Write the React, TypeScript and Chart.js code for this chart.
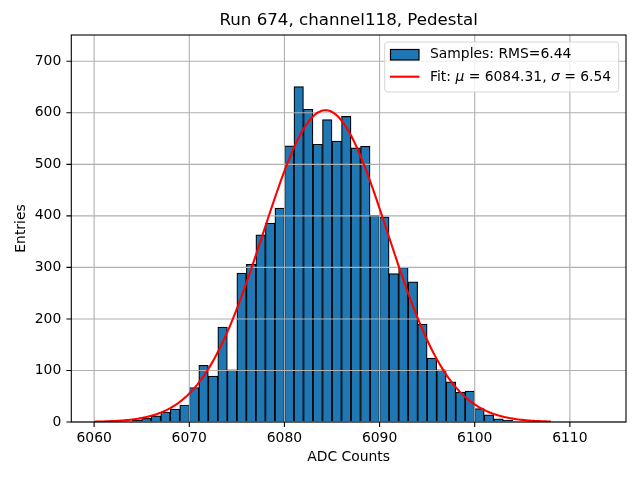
import React, { useEffect, useRef } from "react";
import { Chart, registerables } from "chart.js";

Chart.register(...registerables);

// ---- data ----
const binLefts = [
  6060, 6061, 6062, 6063, 6064, 6065, 6066, 6067, 6068, 6069,
  6070, 6071, 6072, 6073, 6074, 6075, 6076, 6077, 6078, 6079,
  6080, 6081, 6082, 6083, 6084, 6085, 6086, 6087, 6088, 6089,
  6090, 6091, 6092, 6093, 6094, 6095, 6096, 6097, 6098, 6099,
  6100, 6101, 6102, 6103, 6104, 6105, 6106, 6107, 6108, 6109,
  6110, 6111, 6112,
];
const binWidth = 1;
const counts = [
  0, 0, 0, 1, 3, 7, 12, 19, 25, 33,
  67, 110, 89, 184, 101, 289, 306, 363, 386, 415,
  536, 651, 607, 539, 587, 545, 593, 532, 535, 401,
  398, 288, 300, 272, 190, 124, 101, 78, 58, 60,
  26, 14, 6, 3, 1, 0, 0, 0, 0, 0,
  0, 0, 0,
];
const xTicks = [6060, 6070, 6080, 6090, 6100, 6110];
const yTicks = [0, 100, 200, 300, 400, 500, 600, 700];

// Gaussian fit parameters (from the legend)
const fitMu = 6084.31;
const fitSigma = 6.54;
const fitAmplitude = 605;
const fitRange = [6060, 6108];

const titleText = "Run 674, channel118, Pedestal";
const xLabel = "ADC Counts";
const yLabel = "Entries";
const sampleLabel = "Samples: RMS=6.44";

const FONT = "'DejaVu Sans', sans-serif";
const TICK_PX = 13.9;

function fitPoints() {
  const pts: { x: number; y: number }[] = [];
  const n = 240;
  for (let i = 0; i <= n; i++) {
    const x = fitRange[0] + ((fitRange[1] - fitRange[0]) * i) / n;
    const z = (x - fitMu) / fitSigma;
    pts.push({ x, y: fitAmplitude * Math.exp(-0.5 * z * z) });
  }
  return pts;
}

const overlayPlugin = {
  id: "mplOverlay",
  afterDatasetDraw(chart: any, args: any) {
    if (args.index !== 0) return;
    const { ctx, chartArea } = chart;
    const xs = chart.scales.x;
    const ys = chart.scales.y;
    ctx.save();
    ctx.strokeStyle = "#b0b0b0";
    ctx.lineWidth = 1.1;
    ctx.beginPath();
    for (const v of xTicks) {
      const px = xs.getPixelForValue(v);
      ctx.moveTo(px, chartArea.top);
      ctx.lineTo(px, chartArea.bottom);
    }
    for (const v of yTicks) {
      const py = ys.getPixelForValue(v);
      ctx.moveTo(chartArea.left, py);
      ctx.lineTo(chartArea.right, py);
    }
    ctx.stroke();
    ctx.restore();
  },
  afterDatasetsDraw(chart: any) {
    const { ctx, chartArea } = chart;
    const xs = chart.scales.x;
    const ys = chart.scales.y;
    ctx.save();
    ctx.strokeStyle = "#000";
    ctx.lineWidth = 1.1;
    ctx.strokeRect(
      chartArea.left,
      chartArea.top,
      chartArea.right - chartArea.left,
      chartArea.bottom - chartArea.top
    );
    ctx.beginPath();
    for (const v of xTicks) {
      const px = xs.getPixelForValue(v);
      ctx.moveTo(px, chartArea.bottom);
      ctx.lineTo(px, chartArea.bottom + 4.9);
    }
    for (const v of yTicks) {
      const py = ys.getPixelForValue(v);
      ctx.moveTo(chartArea.left, py);
      ctx.lineTo(chartArea.left - 4.9, py);
    }
    ctx.stroke();
    ctx.restore();
  },
  afterDraw(chart: any) {
    const { ctx, chartArea } = chart;
    const cx = (chartArea.left + chartArea.right) / 2;
    ctx.save();
    ctx.fillStyle = "#000";
    ctx.textBaseline = "middle";
    ctx.textAlign = "center";
    ctx.font = `16.67px ${FONT}`;
    ctx.fillText(titleText, cx, 21);
    ctx.font = `${TICK_PX}px ${FONT}`;
    ctx.fillText(xLabel, cx, 457);
    ctx.save();
    ctx.translate(21, (chartArea.top + chartArea.bottom) / 2);
    ctx.rotate(-Math.PI / 2);
    ctx.fillText(yLabel, 0, 0);
    ctx.restore();

    // legend
    const lx = 384.7, ly = 42, lw = 234, lh = 50, r = 3;
    ctx.beginPath();
    ctx.moveTo(lx + r, ly);
    ctx.lineTo(lx + lw - r, ly);
    ctx.quadraticCurveTo(lx + lw, ly, lx + lw, ly + r);
    ctx.lineTo(lx + lw, ly + lh - r);
    ctx.quadraticCurveTo(lx + lw, ly + lh, lx + lw - r, ly + lh);
    ctx.lineTo(lx + r, ly + lh);
    ctx.quadraticCurveTo(lx, ly + lh, lx, ly + lh - r);
    ctx.lineTo(lx, ly + r);
    ctx.quadraticCurveTo(lx, ly, lx + r, ly);
    ctx.closePath();
    ctx.fillStyle = "rgba(255,255,255,0.8)";
    ctx.fill();
    ctx.strokeStyle = "#d6d6d6";
    ctx.lineWidth = 1;
    ctx.stroke();

    ctx.fillStyle = "#1f77b4";
    ctx.fillRect(390.5, 49.5, 28.5, 10.5);
    ctx.strokeStyle = "#000";
    ctx.lineWidth = 1.2;
    ctx.strokeRect(390.5, 49.5, 28.5, 10.5);

    ctx.strokeStyle = "#ff0000";
    ctx.lineWidth = 2.1;
    ctx.beginPath();
    ctx.moveTo(390, 76.7);
    ctx.lineTo(419.5, 76.7);
    ctx.stroke();

    ctx.fillStyle = "#000";
    ctx.textAlign = "left";
    ctx.font = `${TICK_PX}px ${FONT}`;
    ctx.fillText(sampleLabel, 430, 54.8);

    const parts: [string, boolean][] = [
      ["Fit: ", false],
      ["\u03bc", true],
      [" = 6084.31, ", false],
      ["\u03c3", true],
      [" = 6.54", false],
    ];
    let tx = 430;
    for (const [s, it] of parts) {
      ctx.font = `${it ? "oblique " : ""}${TICK_PX}px ${FONT}`;
      ctx.fillText(s, tx, 77.8);
      tx += ctx.measureText(s).width;
    }
    ctx.restore();
  },
};

export default function App() {
  const ref = useRef<HTMLCanvasElement | null>(null);

  useEffect(() => {
    document.body.style.margin = "0";
    if (!ref.current) return;
    // empty bins draw nothing, so only non-empty bins become bars
    const barData = binLefts
      .map((b, i) => ({ x: b + binWidth / 2, y: counts[i] }))
      .filter((p) => p.y > 0);
    const chart = new Chart(ref.current, {
      type: "bar",
      data: {
        datasets: [
          {
            type: "bar",
            label: sampleLabel,
            data: barData,
            backgroundColor: "#1f77b4",
            borderColor: "#000000",
            borderWidth: 1.2,
            borderSkipped: "start",
            barPercentage: 1,
            categoryPercentage: 1,
            order: 2,
          } as any,
          {
            type: "line",
            label: "Fit",
            data: fitPoints(),
            borderColor: "#ff0000",
            borderWidth: 2.1,
            pointRadius: 0,
            tension: 0,
            fill: false,
            order: 1,
          } as any,
        ],
      },
      options: {
        animation: false,
        responsive: true,
        maintainAspectRatio: false,
        devicePixelRatio: 1,
        layout: { padding: { left: 0, right: 14, top: 35, bottom: 0 } },
        plugins: {
          legend: { display: false },
          title: { display: false },
          tooltip: { enabled: false },
        },
        scales: {
          x: {
            type: "linear",
            min: 6057.6,
            max: 6115.9,
            offset: false,
            afterBuildTicks: (s: any) => {
              s.ticks = xTicks.map((v) => ({ value: v }));
            },
            afterFit: (s: any) => {
              s.height = 58;
            },
            grid: {
              display: true,
              drawOnChartArea: false,
              drawTicks: true,
              tickLength: 5,
              tickColor: "rgba(0,0,0,0)",
              color: "rgba(0,0,0,0)",
            },
            border: { display: false },
            ticks: {
              color: "#000",
              padding: 3,
              maxRotation: 0,
              autoSkip: false,
              font: { family: FONT, size: TICK_PX },
              callback: (v: any) => String(v),
            },
          },
          y: {
            type: "linear",
            min: 0,
            max: 751,
            afterBuildTicks: (s: any) => {
              s.ticks = yTicks.map((v) => ({ value: v }));
            },
            afterFit: (s: any) => {
              s.width = 71.3;
            },
            grid: {
              display: true,
              drawOnChartArea: false,
              drawTicks: true,
              tickLength: 5,
              tickColor: "rgba(0,0,0,0)",
              color: "rgba(0,0,0,0)",
            },
            border: { display: false },
            ticks: {
              color: "#000",
              padding: 5,
              autoSkip: false,
              font: { family: FONT, size: TICK_PX },
              callback: (v: any) => String(v),
            },
          },
        },
      },
      plugins: [overlayPlugin],
    });
    return () => chart.destroy();
  }, []);

  return (
    <div style={{ position: "absolute", left: 0, top: 0, width: 640, height: 480, background: "#fff" }}>
      <canvas ref={ref} />
    </div>
  );
}
